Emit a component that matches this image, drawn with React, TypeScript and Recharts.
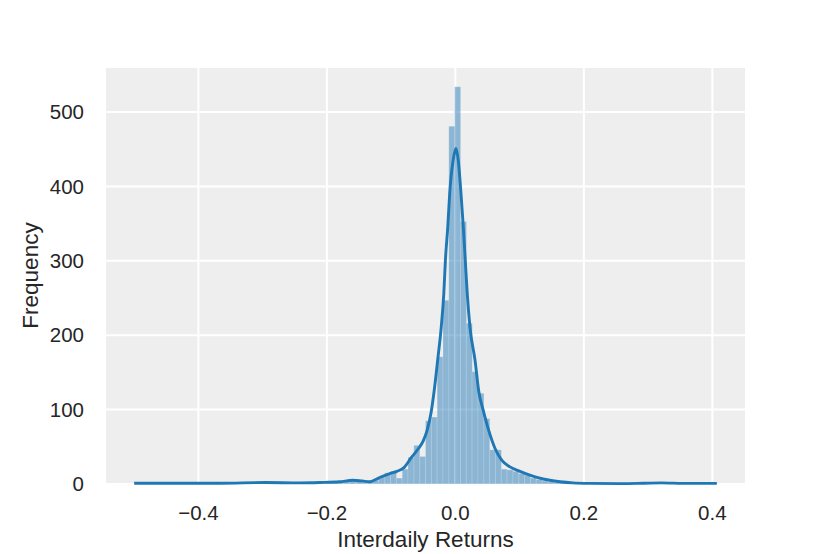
import { ComposedChart, XAxis, YAxis, CartesianGrid, Bar, Line, Label } from 'recharts';

// histogram: 100 bins starting at -0.5
const binStart = -0.5;
const binWidth = 0.00907;
const binCounts = [
  1, 1, 0, 1, 0, 0, 0, 0, 0, 0,
  1, 0, 1, 0, 0, 0, 0, 0, 0, 1,
  0, 1, 2, 1, 1, 0, 1, 0, 1, 2,
  1, 1, 1, 1, 2, 2, 3, 4, 3, 2,
  3, 5, 10, 15, 17, 8, 20, 36, 52, 37,
  85, 90, 171, 247, 481, 534, 353, 216, 151, 122,
  88, 46, 46, 20, 19, 17, 14, 12, 8, 6,
  4, 3, 2, 2, 1, 1, 1, 1, 0, 1,
  0, 0, 0, 0, 1, 0, 0, 0, 0, 0,
  1, 1, 1, 0, 0, 0, 0, 0, 0, 1,
];

// density curve
const kdeX = [
  -0.5, -0.444, -0.366, -0.296, -0.242, -0.211, -0.18, -0.16, -0.145, -0.133,
  -0.124, -0.117, -0.102, -0.091, -0.08, -0.069, -0.058, -0.05, -0.044, -0.038,
  -0.0335, -0.0275, -0.022, -0.018, -0.0155, -0.0118, -0.0088, -0.0035, 0.0009,
  0.0045, 0.0087, 0.0123, 0.0154, 0.0185, 0.0227, 0.0305, 0.0365, 0.0434, 0.0512,
  0.0616, 0.0721, 0.085, 0.1006, 0.116, 0.127, 0.147, 0.163, 0.183, 0.21,
  0.256, 0.293, 0.321, 0.355, 0.407,
];
const kdeY = [
  1, 1, 1, 2, 1.5, 2, 3, 5, 4, 3,
  6, 9, 14, 17, 22, 35, 47, 58, 72, 95,
  122, 167, 211, 256, 301, 346, 391, 435, 451,
  435, 391, 346, 301, 256, 211, 167, 124, 99, 74,
  48, 32, 23, 17, 12, 9, 5, 3, 1.5, 0.8,
  0.5, 1, 1.5, 0.8, 0.8,
];

const xTicks = [-0.4, -0.2, 0, 0.2, 0.4];
const yTicks = [0, 100, 200, 300, 400, 500];

const histData = binCounts.map((count, i) => ({ x: binStart + (i + 0.5) * binWidth, count }));
const kdeData = kdeX.map((x, i) => ({ x, density: kdeY[i] }));

const font = '"Liberation Sans", Arial, sans-serif';
const ink = '#262626';
const fmt = (v: number) => (v < 0 ? '\u2212' + Math.abs(v).toFixed(1) : v.toFixed(1));

export default function App() {
  return (
    <div style={{ position: 'absolute', left: 0, top: 0, width: 830, height: 554, background: '#fff' }}>
      <ComposedChart
        width={830}
        height={554}
        data={histData}
        margin={{ top: 67, right: 84, bottom: 0, left: 0 }}
        barCategoryGap={0}
        barGap={0}
      >
        <CartesianGrid fill="#eeeeee" stroke="#ffffff" strokeWidth={2} ticks={xTicks} />
        <XAxis
          dataKey="x"
          type="number"
          domain={[-0.5454, 0.4524]}
          allowDataOverflow
          ticks={xTicks}
          tickFormatter={fmt}
          height={70}
          axisLine={false}
          tickLine={false}
          tickSize={0}
          tickMargin={21}
          tick={{ fontSize: 20.5, fill: ink, fontFamily: font }}
        >
          <Label
            content={({ viewBox }: any) => (
              <text
                x={viewBox.x + viewBox.width / 2}
                y={viewBox.y + 63}
                textAnchor="middle"
                fontSize={22.5}
                fill={ink}
                fontFamily={font}
              >
                Interdaily Returns
              </text>
            )}
          />
        </XAxis>
        <XAxis xAxisId="kde" dataKey="x" type="number" domain={[-0.5454, 0.4524]} allowDataOverflow hide />
        <YAxis
          type="number"
          domain={[0, 560.5]}
          ticks={yTicks}
          width={105}
          axisLine={false}
          tickLine={false}
          tickSize={0}
          tickMargin={21}
          tick={{ fontSize: 20.5, fill: ink, fontFamily: font }}
        >
          <Label
            content={({ viewBox }: any) => {
              const cx = viewBox.x + 38;
              const cy = viewBox.y + viewBox.height / 2;
              return (
                <text
                  x={cx}
                  y={cy}
                  textAnchor="middle"
                  transform={`rotate(-90, ${cx}, ${cy})`}
                  fontSize={22.5}
                  fill={ink}
                  fontFamily={font}
                >
                  Frequency
                </text>
              );
            }}
          />
        </YAxis>
        <Bar
          dataKey="count"
          fill="#1f77b4"
          fillOpacity={0.48}
          stroke="#ffffff"
          strokeOpacity={0.35}
          strokeWidth={0.6}
          isAnimationActive={false}
        />
        <Line
          xAxisId="kde"
          data={kdeData}
          dataKey="density"
          type="monotone"
          stroke="#1f77b4"
          strokeWidth={2.9}
          dot={false}
          isAnimationActive={false}
        />
      </ComposedChart>
    </div>
  );
}
